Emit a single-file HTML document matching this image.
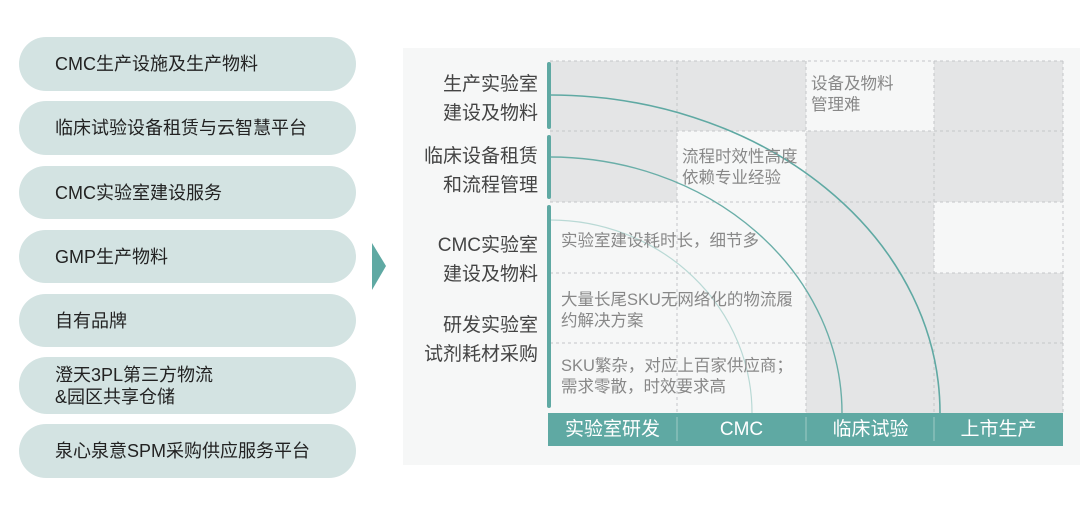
<!DOCTYPE html>
<html><head><meta charset="utf-8"><style>
body{margin:0;width:1080px;height:516px;background:#fff;position:relative;overflow:hidden;font-family:"Liberation Sans","Noto Sans CJK SC",sans-serif}
.pill{position:absolute;left:19px;width:337px;background:#d3e3e2;border-radius:28px;color:#222;font-size:18px;display:flex;align-items:center;padding-left:36px;box-sizing:border-box;line-height:22px}
.lab{position:absolute;right:542px;text-align:right;font-size:19px;color:#444;line-height:29px}
.ct{position:absolute;font-size:16.5px;color:#888;line-height:21px;white-space:nowrap}
.bt{position:absolute;top:413px;height:33px;line-height:33px;color:#fff;font-size:19px;text-align:center;width:129px}
</style></head><body>
<div class="pill" style="top:37px;height:54px">CMC生产设施及生产物料</div>
<div class="pill" style="top:101px;height:54px">临床试验设备租赁与云智慧平台</div>
<div class="pill" style="top:166px;height:53px">CMC实验室建设服务</div>
<div class="pill" style="top:230px;height:53px">GMP生产物料</div>
<div class="pill" style="top:294px;height:53px">自有品牌</div>
<div class="pill" style="top:357px;height:57px">澄天3PL第三方物流<br>&amp;园区共享仓储</div>
<div class="pill" style="top:424px;height:54px">泉心泉意SPM采购供应服务平台</div>
<svg style="position:absolute;left:0;top:0" width="1080" height="516">
<polygon points="372,243 386,266 372,290" fill="#5fa9a3"/>
<rect x="403" y="48" width="677" height="417" fill="#f6f7f7"/>
<g fill="#e4e5e6">
<rect x="550" y="61" width="256" height="70"/><rect x="934" y="61" width="129" height="70"/>
<rect x="550" y="131" width="127" height="71"/><rect x="806" y="131" width="257" height="71"/>
<rect x="806" y="202" width="128" height="71"/>
<rect x="806" y="273" width="257" height="140"/>
</g>
<g stroke="#c4c6c8" stroke-dasharray="3,3" stroke-width="1" fill="none">
<line x1="550" y1="61" x2="1063" y2="61"/><line x1="550" y1="131" x2="1063" y2="131"/><line x1="550" y1="202" x2="1063" y2="202"/><line x1="550" y1="273" x2="1063" y2="273"/><line x1="550" y1="343" x2="1063" y2="343"/>
<line x1="677" y1="61" x2="677" y2="413"/><line x1="806" y1="61" x2="806" y2="413"/><line x1="934" y1="61" x2="934" y2="413"/><line x1="1063" y1="61" x2="1063" y2="413"/>
</g>
<g fill="none">
<path d="M550,95 A390,318 0 0 1 940,413" stroke="#5fa9a3" stroke-width="1.6"/>
<path d="M550,157 A292,256 0 0 1 842,413" stroke="#6aaea8" stroke-width="1.4"/>
<path d="M550,220 A202,193 0 0 1 752,413" stroke="#b9d9d5" stroke-width="1.2"/>
</g>
<g fill="#5fa9a3">
<rect x="547" y="62" width="4" height="67" rx="2"/><rect x="547" y="135" width="4" height="64" rx="2"/><rect x="547" y="205" width="4" height="203" rx="2"/>
<rect x="548" y="413" width="515" height="33"/>
</g>
<g stroke="#9fcbc6" stroke-width="1"><line x1="677" y1="417" x2="677" y2="441"/><line x1="806" y1="417" x2="806" y2="441"/><line x1="934" y1="417" x2="934" y2="441"/></g>
</svg>
<div class="lab" style="top:70px">生产实验室<br>建设及物料</div>
<div class="lab" style="top:142px">临床设备租赁<br>和流程管理</div>
<div class="lab" style="top:231px">CMC实验室<br>建设及物料</div>
<div class="lab" style="top:311px">研发实验室<br>试剂耗材采购</div>
<div class="ct" style="left:811px;top:74px">设备及物料<br>管理难</div>
<div class="ct" style="left:682px;top:147px">流程时效性高度<br>依赖专业经验</div>
<div class="ct" style="left:561px;top:231px">实验室建设耗时长，细节多</div>
<div class="ct" style="left:561px;top:290px">大量长尾SKU无网络化的物流履<br>约解决方案</div>
<div class="ct" style="left:561px;top:356px">SKU繁杂，对应上百家供应商；<br>需求零散，时效要求高</div>
<div class="bt" style="left:548px">实验室研发</div>
<div class="bt" style="left:677px">CMC</div>
<div class="bt" style="left:806px">临床试验</div>
<div class="bt" style="left:934px">上市生产</div>
</body></html>
